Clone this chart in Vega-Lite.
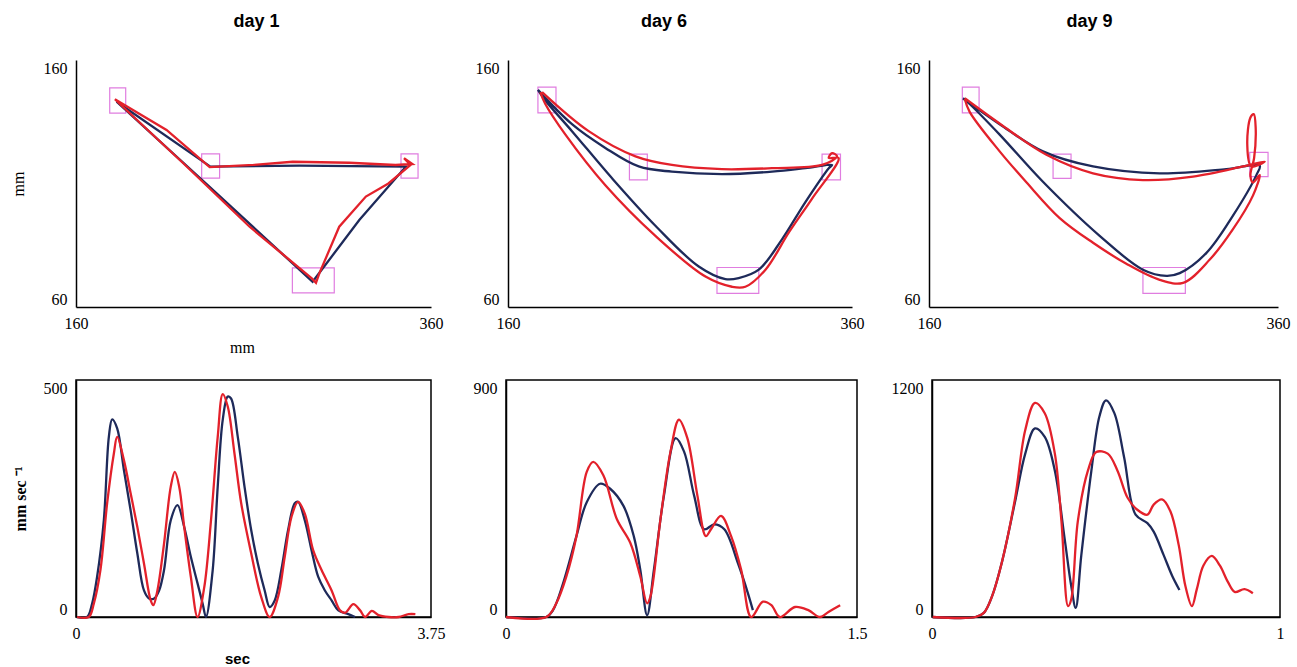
{
  "$schema": "https://vega.github.io/schema/vega-lite/v6.json",
  "padding": {"left": 10, "top": 13, "right": 5, "bottom": 2},
  "background": "white",
  "config": {
    "view": {"stroke": null},
    "axis": {"grid": false, "ticks": false, "domainColor": "black", "domainWidth": 1.5, "labelFont": "Liberation Serif", "labelFontSize": 16, "labelColor": "black", "titleFont": "Liberation Serif", "titleFontWeight": "normal", "titleColor": "black", "titleFontSize": 16},
    "axisX": {"labelFlush": false, "labelPadding": 8, "titlePadding": 8},
    "axisY": {"labelFlush": true, "labelPadding": 9, "titlePadding": 17},
    "title": {"font": "Liberation Sans", "fontSize": 18, "fontWeight": "bold", "offset": 29, "color": "black", "frame": "group"},
    "line": {"strokeWidth": 2.3, "interpolate": "catmull-rom"}
  },
  "datasets": {
    "targets": [
      {"day": 1, "x1": 179, "x2": 188, "y1": 138.5, "y2": 148.7},
      {"day": 1, "x1": 230.8, "x2": 240.9, "y1": 112.2, "y2": 122},
      {"day": 1, "x1": 343.1, "x2": 352.7, "y1": 112.2, "y2": 122},
      {"day": 1, "x1": 281.9, "x2": 305.5, "y1": 65.7, "y2": 75.8},
      {"day": 6, "x1": 177.4, "x2": 187.9, "y1": 138.6, "y2": 149},
      {"day": 6, "x1": 230.6, "x2": 241, "y1": 111.5, "y2": 121.9},
      {"day": 6, "x1": 342.6, "x2": 353.3, "y1": 111.5, "y2": 121.9},
      {"day": 6, "x1": 281.5, "x2": 305.8, "y1": 65.5, "y2": 76},
      {"day": 9, "x1": 179.1, "x2": 188.7, "y1": 138.6, "y2": 149},
      {"day": 9, "x1": 231.1, "x2": 241.4, "y1": 112.1, "y2": 121.9},
      {"day": 9, "x1": 343.8, "x2": 354.3, "y1": 112.8, "y2": 122.6},
      {"day": 9, "x1": 282.6, "x2": 306.9, "y1": 65.5, "y2": 76}
    ],
    "traj": [
      {"day": 1, "s": "b", "i": 0, "x": 182.9, "y": 143.1},
      {"day": 1, "s": "b", "i": 1, "x": 235.7, "y": 116.8},
      {"day": 1, "s": "b", "i": 2, "x": 285.8, "y": 117.2},
      {"day": 1, "s": "b", "i": 3, "x": 345.8, "y": 116.8},
      {"day": 1, "s": "b", "i": 4, "x": 319.6, "y": 95.2},
      {"day": 1, "s": "b", "i": 5, "x": 293.3, "y": 70.2},
      {"day": 1, "s": "b", "i": 6, "x": 237.1, "y": 107.4},
      {"day": 1, "s": "b", "i": 7, "x": 182.9, "y": 143.1},
      {"day": 1, "s": "r", "i": 0, "x": 181.9, "y": 144.1},
      {"day": 1, "s": "r", "i": 1, "x": 211, "y": 131.7},
      {"day": 1, "s": "r", "i": 2, "x": 235.3, "y": 116.6},
      {"day": 1, "s": "r", "i": 3, "x": 260, "y": 117.5},
      {"day": 1, "s": "r", "i": 4, "x": 282.1, "y": 118.8},
      {"day": 1, "s": "r", "i": 5, "x": 313.9, "y": 118.4},
      {"day": 1, "s": "r", "i": 6, "x": 340, "y": 117.5},
      {"day": 1, "s": "r", "i": 7, "x": 349.5, "y": 117.9},
      {"day": 1, "s": "r", "i": 8, "x": 344.8, "y": 120.2},
      {"day": 1, "s": "r", "i": 9, "x": 348.5, "y": 117.5},
      {"day": 1, "s": "r", "i": 10, "x": 336, "y": 110},
      {"day": 1, "s": "r", "i": 11, "x": 323.3, "y": 104.7},
      {"day": 1, "s": "r", "i": 12, "x": 308.3, "y": 92.5},
      {"day": 1, "s": "r", "i": 13, "x": 297.1, "y": 73.6},
      {"day": 1, "s": "r", "i": 14, "x": 295.2, "y": 69.8},
      {"day": 1, "s": "r", "i": 15, "x": 293, "y": 71.5},
      {"day": 1, "s": "r", "i": 16, "x": 257.8, "y": 92.5},
      {"day": 1, "s": "r", "i": 17, "x": 220, "y": 118.5},
      {"day": 1, "s": "r", "i": 18, "x": 181.9, "y": 144.1},
      {"day": 6, "s": "b", "i": 0, "x": 177.4, "y": 147.9},
      {"day": 6, "s": "b", "i": 1, "x": 197.2, "y": 134.0},
      {"day": 6, "s": "b", "i": 2, "x": 216.6, "y": 124.4},
      {"day": 6, "s": "b", "i": 3, "x": 236.0, "y": 116.9},
      {"day": 6, "s": "b", "i": 4, "x": 255.3, "y": 114.8},
      {"day": 6, "s": "b", "i": 5, "x": 284.4, "y": 113.8},
      {"day": 6, "s": "b", "i": 6, "x": 313.5, "y": 114.8},
      {"day": 6, "s": "b", "i": 7, "x": 332.9, "y": 116.2},
      {"day": 6, "s": "b", "i": 8, "x": 348.4, "y": 117.5},
      {"day": 6, "s": "b", "i": 9, "x": 346.5, "y": 116.2},
      {"day": 6, "s": "b", "i": 10, "x": 332.9, "y": 102.5},
      {"day": 6, "s": "b", "i": 11, "x": 319.3, "y": 87.4},
      {"day": 6, "s": "b", "i": 12, "x": 305.8, "y": 75.1},
      {"day": 6, "s": "b", "i": 13, "x": 294.1, "y": 71.7},
      {"day": 6, "s": "b", "i": 14, "x": 286.4, "y": 71.3},
      {"day": 6, "s": "b", "i": 15, "x": 270.9, "y": 76.4},
      {"day": 6, "s": "b", "i": 16, "x": 245.7, "y": 92.9},
      {"day": 6, "s": "b", "i": 17, "x": 220.5, "y": 112.1},
      {"day": 6, "s": "b", "i": 18, "x": 197.2, "y": 131.2},
      {"day": 6, "s": "b", "i": 19, "x": 181.7, "y": 143.6},
      {"day": 6, "s": "b", "i": 20, "x": 177.4, "y": 147.9},
      {"day": 6, "s": "r", "i": 0, "x": 179.8, "y": 147.0},
      {"day": 6, "s": "r", "i": 1, "x": 206.9, "y": 131.2},
      {"day": 6, "s": "r", "i": 2, "x": 234.1, "y": 121.0},
      {"day": 6, "s": "r", "i": 3, "x": 255.3, "y": 117.5},
      {"day": 6, "s": "r", "i": 4, "x": 284.4, "y": 115.8},
      {"day": 6, "s": "r", "i": 5, "x": 313.5, "y": 116.2},
      {"day": 6, "s": "r", "i": 6, "x": 342.6, "y": 117.5},
      {"day": 6, "s": "r", "i": 7, "x": 351.3, "y": 121.0},
      {"day": 6, "s": "r", "i": 8, "x": 348.4, "y": 122.3},
      {"day": 6, "s": "r", "i": 9, "x": 346.5, "y": 120.3},
      {"day": 6, "s": "r", "i": 10, "x": 352.2, "y": 120.3},
      {"day": 6, "s": "r", "i": 11, "x": 336.7, "y": 103.8},
      {"day": 6, "s": "r", "i": 12, "x": 323.3, "y": 90.2},
      {"day": 6, "s": "r", "i": 13, "x": 309.7, "y": 75.1},
      {"day": 6, "s": "r", "i": 14, "x": 298.0, "y": 68.2},
      {"day": 6, "s": "r", "i": 15, "x": 290.2, "y": 68.2},
      {"day": 6, "s": "r", "i": 16, "x": 274.8, "y": 72.3},
      {"day": 6, "s": "r", "i": 17, "x": 245.7, "y": 88.8},
      {"day": 6, "s": "r", "i": 18, "x": 216.6, "y": 109.3},
      {"day": 6, "s": "r", "i": 19, "x": 193.4, "y": 129.8},
      {"day": 6, "s": "r", "i": 20, "x": 181.7, "y": 142.2},
      {"day": 6, "s": "r", "i": 21, "x": 178.8, "y": 147.0},
      {"day": 9, "s": "b", "i": 0, "x": 179.5, "y": 144.5},
      {"day": 9, "s": "b", "i": 1, "x": 200.5, "y": 134.0},
      {"day": 9, "s": "b", "i": 2, "x": 225.3, "y": 123.0},
      {"day": 9, "s": "b", "i": 3, "x": 254.0, "y": 116.9},
      {"day": 9, "s": "b", "i": 4, "x": 292.2, "y": 114.1},
      {"day": 9, "s": "b", "i": 5, "x": 330.4, "y": 115.8},
      {"day": 9, "s": "b", "i": 6, "x": 349.5, "y": 117.3},
      {"day": 9, "s": "b", "i": 7, "x": 347.6, "y": 113.4},
      {"day": 9, "s": "b", "i": 8, "x": 334.2, "y": 97.0},
      {"day": 9, "s": "b", "i": 9, "x": 319.0, "y": 81.9},
      {"day": 9, "s": "b", "i": 10, "x": 303.7, "y": 73.7},
      {"day": 9, "s": "b", "i": 11, "x": 296.1, "y": 72.6},
      {"day": 9, "s": "b", "i": 12, "x": 282.6, "y": 75.1},
      {"day": 9, "s": "b", "i": 13, "x": 257.8, "y": 88.8},
      {"day": 9, "s": "b", "i": 14, "x": 225.3, "y": 110.7},
      {"day": 9, "s": "b", "i": 15, "x": 200.5, "y": 129.8},
      {"day": 9, "s": "b", "i": 16, "x": 183.3, "y": 142.2},
      {"day": 9, "s": "b", "i": 17, "x": 179.5, "y": 144.5},
      {"day": 9, "s": "r", "i": 0, "x": 180.5, "y": 144.5},
      {"day": 9, "s": "r", "i": 1, "x": 202.4, "y": 133.3},
      {"day": 9, "s": "r", "i": 2, "x": 227.3, "y": 121.6},
      {"day": 9, "s": "r", "i": 3, "x": 254.0, "y": 114.1},
      {"day": 9, "s": "r", "i": 4, "x": 282.6, "y": 111.4},
      {"day": 9, "s": "r", "i": 5, "x": 311.3, "y": 112.8},
      {"day": 9, "s": "r", "i": 6, "x": 339.9, "y": 116.9},
      {"day": 9, "s": "r", "i": 7, "x": 352.4, "y": 118.9},
      {"day": 9, "s": "r", "i": 8, "x": 344.7, "y": 116.9},
      {"day": 9, "s": "r", "i": 9, "x": 342.4, "y": 125.7},
      {"day": 9, "s": "r", "i": 10, "x": 344.2, "y": 136.7},
      {"day": 9, "s": "r", "i": 11, "x": 346.1, "y": 138.1},
      {"day": 9, "s": "r", "i": 12, "x": 347.2, "y": 132.6},
      {"day": 9, "s": "r", "i": 13, "x": 346.3, "y": 120.3},
      {"day": 9, "s": "r", "i": 14, "x": 344.2, "y": 113.4},
      {"day": 9, "s": "r", "i": 15, "x": 345.7, "y": 110.4},
      {"day": 9, "s": "r", "i": 16, "x": 349.5, "y": 113.4},
      {"day": 9, "s": "r", "i": 17, "x": 345.7, "y": 105.2},
      {"day": 9, "s": "r", "i": 18, "x": 334.2, "y": 91.5},
      {"day": 9, "s": "r", "i": 19, "x": 320.9, "y": 79.2},
      {"day": 9, "s": "r", "i": 20, "x": 305.6, "y": 69.8},
      {"day": 9, "s": "r", "i": 21, "x": 292.2, "y": 71.0},
      {"day": 9, "s": "r", "i": 22, "x": 273.1, "y": 77.5},
      {"day": 9, "s": "r", "i": 23, "x": 254.0, "y": 86.0},
      {"day": 9, "s": "r", "i": 24, "x": 234.9, "y": 96.0},
      {"day": 9, "s": "r", "i": 25, "x": 215.8, "y": 110.5},
      {"day": 9, "s": "r", "i": 26, "x": 200.5, "y": 123.0},
      {"day": 9, "s": "r", "i": 27, "x": 183.3, "y": 139.0},
      {"day": 9, "s": "r", "i": 28, "x": 180.5, "y": 144.2}
    ],
    "vel": [
      {"day": 1, "s": "b", "t": 0.011, "v": 0},
      {"day": 1, "s": "b", "t": 0.117, "v": 0},
      {"day": 1, "s": "b", "t": 0.170, "v": 28},
      {"day": 1, "s": "b", "t": 0.223, "v": 85},
      {"day": 1, "s": "b", "t": 0.294, "v": 204},
      {"day": 1, "s": "b", "t": 0.347, "v": 380},
      {"day": 1, "s": "b", "t": 0.382, "v": 417},
      {"day": 1, "s": "b", "t": 0.435, "v": 398},
      {"day": 1, "s": "b", "t": 0.506, "v": 310},
      {"day": 1, "s": "b", "t": 0.577, "v": 225},
      {"day": 1, "s": "b", "t": 0.648, "v": 134},
      {"day": 1, "s": "b", "t": 0.718, "v": 56},
      {"day": 1, "s": "b", "t": 0.772, "v": 39},
      {"day": 1, "s": "b", "t": 0.825, "v": 39},
      {"day": 1, "s": "b", "t": 0.878, "v": 56},
      {"day": 1, "s": "b", "t": 0.930, "v": 99},
      {"day": 1, "s": "b", "t": 1.001, "v": 204},
      {"day": 1, "s": "b", "t": 1.072, "v": 236},
      {"day": 1, "s": "b", "t": 1.143, "v": 190},
      {"day": 1, "s": "b", "t": 1.213, "v": 127},
      {"day": 1, "s": "b", "t": 1.284, "v": 71},
      {"day": 1, "s": "b", "t": 1.338, "v": 28},
      {"day": 1, "s": "b", "t": 1.373, "v": 0},
      {"day": 1, "s": "b", "t": 1.444, "v": 99},
      {"day": 1, "s": "b", "t": 1.497, "v": 275},
      {"day": 1, "s": "b", "t": 1.550, "v": 416},
      {"day": 1, "s": "b", "t": 1.603, "v": 465},
      {"day": 1, "s": "b", "t": 1.638, "v": 461},
      {"day": 1, "s": "b", "t": 1.709, "v": 380},
      {"day": 1, "s": "b", "t": 1.780, "v": 275},
      {"day": 1, "s": "b", "t": 1.851, "v": 183},
      {"day": 1, "s": "b", "t": 1.921, "v": 113},
      {"day": 1, "s": "b", "t": 1.993, "v": 56},
      {"day": 1, "s": "b", "t": 2.046, "v": 21},
      {"day": 1, "s": "b", "t": 2.099, "v": 35},
      {"day": 1, "s": "b", "t": 2.169, "v": 99},
      {"day": 1, "s": "b", "t": 2.240, "v": 183},
      {"day": 1, "s": "b", "t": 2.311, "v": 240},
      {"day": 1, "s": "b", "t": 2.346, "v": 243},
      {"day": 1, "s": "b", "t": 2.417, "v": 204},
      {"day": 1, "s": "b", "t": 2.488, "v": 141},
      {"day": 1, "s": "b", "t": 2.558, "v": 85},
      {"day": 1, "s": "b", "t": 2.629, "v": 56},
      {"day": 1, "s": "b", "t": 2.700, "v": 35},
      {"day": 1, "s": "b", "t": 2.771, "v": 14},
      {"day": 1, "s": "b", "t": 2.877, "v": 6},
      {"day": 1, "s": "b", "t": 2.948, "v": 0},
      {"day": 1, "s": "r", "t": 0.011, "v": 0},
      {"day": 1, "s": "r", "t": 0.135, "v": 0},
      {"day": 1, "s": "r", "t": 0.188, "v": 28},
      {"day": 1, "s": "r", "t": 0.258, "v": 99},
      {"day": 1, "s": "r", "t": 0.329, "v": 240},
      {"day": 1, "s": "r", "t": 0.400, "v": 345},
      {"day": 1, "s": "r", "t": 0.435, "v": 380},
      {"day": 1, "s": "r", "t": 0.506, "v": 331},
      {"day": 1, "s": "r", "t": 0.577, "v": 261},
      {"day": 1, "s": "r", "t": 0.648, "v": 190},
      {"day": 1, "s": "r", "t": 0.718, "v": 113},
      {"day": 1, "s": "r", "t": 0.789, "v": 35},
      {"day": 1, "s": "r", "t": 0.817, "v": 25},
      {"day": 1, "s": "r", "t": 0.860, "v": 56},
      {"day": 1, "s": "r", "t": 0.930, "v": 155},
      {"day": 1, "s": "r", "t": 1.001, "v": 275},
      {"day": 1, "s": "r", "t": 1.044, "v": 306},
      {"day": 1, "s": "r", "t": 1.090, "v": 275},
      {"day": 1, "s": "r", "t": 1.143, "v": 190},
      {"day": 1, "s": "r", "t": 1.213, "v": 85},
      {"day": 1, "s": "r", "t": 1.284, "v": 0},
      {"day": 1, "s": "r", "t": 1.355, "v": 63},
      {"day": 1, "s": "r", "t": 1.426, "v": 204},
      {"day": 1, "s": "r", "t": 1.497, "v": 380},
      {"day": 1, "s": "r", "t": 1.550, "v": 470},
      {"day": 1, "s": "r", "t": 1.603, "v": 444},
      {"day": 1, "s": "r", "t": 1.674, "v": 345},
      {"day": 1, "s": "r", "t": 1.745, "v": 240},
      {"day": 1, "s": "r", "t": 1.851, "v": 134},
      {"day": 1, "s": "r", "t": 1.957, "v": 42},
      {"day": 1, "s": "r", "t": 2.046, "v": 0},
      {"day": 1, "s": "r", "t": 2.134, "v": 42},
      {"day": 1, "s": "r", "t": 2.205, "v": 127},
      {"day": 1, "s": "r", "t": 2.276, "v": 211},
      {"day": 1, "s": "r", "t": 2.346, "v": 243},
      {"day": 1, "s": "r", "t": 2.417, "v": 218},
      {"day": 1, "s": "r", "t": 2.505, "v": 141},
      {"day": 1, "s": "r", "t": 2.594, "v": 99},
      {"day": 1, "s": "r", "t": 2.700, "v": 56},
      {"day": 1, "s": "r", "t": 2.789, "v": 14},
      {"day": 1, "s": "r", "t": 2.842, "v": 9},
      {"day": 1, "s": "r", "t": 2.930, "v": 27},
      {"day": 1, "s": "r", "t": 3.001, "v": 14},
      {"day": 1, "s": "r", "t": 3.054, "v": 0},
      {"day": 1, "s": "r", "t": 3.125, "v": 13},
      {"day": 1, "s": "r", "t": 3.195, "v": 4},
      {"day": 1, "s": "r", "t": 3.301, "v": 0},
      {"day": 1, "s": "r", "t": 3.408, "v": 0},
      {"day": 1, "s": "r", "t": 3.514, "v": 6},
      {"day": 1, "s": "r", "t": 3.585, "v": 6},
      {"day": 6, "s": "b", "t": 0, "v": 0},
      {"day": 6, "s": "b", "t": 0.172, "v": 0},
      {"day": 6, "s": "b", "t": 0.201, "v": 26},
      {"day": 6, "s": "b", "t": 0.244, "v": 128},
      {"day": 6, "s": "b", "t": 0.301, "v": 307},
      {"day": 6, "s": "b", "t": 0.345, "v": 436},
      {"day": 6, "s": "b", "t": 0.402, "v": 506},
      {"day": 6, "s": "b", "t": 0.445, "v": 487},
      {"day": 6, "s": "b", "t": 0.502, "v": 422},
      {"day": 6, "s": "b", "t": 0.546, "v": 307},
      {"day": 6, "s": "b", "t": 0.574, "v": 179},
      {"day": 6, "s": "b", "t": 0.603, "v": 7},
      {"day": 6, "s": "b", "t": 0.632, "v": 179},
      {"day": 6, "s": "b", "t": 0.675, "v": 461},
      {"day": 6, "s": "b", "t": 0.725, "v": 679},
      {"day": 6, "s": "b", "t": 0.761, "v": 628},
      {"day": 6, "s": "b", "t": 0.804, "v": 461},
      {"day": 6, "s": "b", "t": 0.847, "v": 333},
      {"day": 6, "s": "b", "t": 0.890, "v": 352},
      {"day": 6, "s": "b", "t": 0.933, "v": 333},
      {"day": 6, "s": "b", "t": 0.991, "v": 205},
      {"day": 6, "s": "b", "t": 1.034, "v": 90},
      {"day": 6, "s": "b", "t": 1.055, "v": 26},
      {"day": 6, "s": "r", "t": 0, "v": 0},
      {"day": 6, "s": "r", "t": 0.172, "v": 0},
      {"day": 6, "s": "r", "t": 0.215, "v": 52},
      {"day": 6, "s": "r", "t": 0.258, "v": 154},
      {"day": 6, "s": "r", "t": 0.301, "v": 307},
      {"day": 6, "s": "r", "t": 0.345, "v": 551},
      {"day": 6, "s": "r", "t": 0.373, "v": 589},
      {"day": 6, "s": "r", "t": 0.416, "v": 538},
      {"day": 6, "s": "r", "t": 0.474, "v": 371},
      {"day": 6, "s": "r", "t": 0.531, "v": 282},
      {"day": 6, "s": "r", "t": 0.574, "v": 154},
      {"day": 6, "s": "r", "t": 0.603, "v": 52},
      {"day": 6, "s": "r", "t": 0.617, "v": 77},
      {"day": 6, "s": "r", "t": 0.660, "v": 371},
      {"day": 6, "s": "r", "t": 0.703, "v": 628},
      {"day": 6, "s": "r", "t": 0.739, "v": 749},
      {"day": 6, "s": "r", "t": 0.775, "v": 679},
      {"day": 6, "s": "r", "t": 0.818, "v": 461},
      {"day": 6, "s": "r", "t": 0.854, "v": 307},
      {"day": 6, "s": "r", "t": 0.876, "v": 333},
      {"day": 6, "s": "r", "t": 0.919, "v": 384},
      {"day": 6, "s": "r", "t": 0.962, "v": 307},
      {"day": 6, "s": "r", "t": 1.005, "v": 179},
      {"day": 6, "s": "r", "t": 1.048, "v": 0},
      {"day": 6, "s": "r", "t": 1.098, "v": 58},
      {"day": 6, "s": "r", "t": 1.134, "v": 45},
      {"day": 6, "s": "r", "t": 1.170, "v": 0},
      {"day": 6, "s": "r", "t": 1.235, "v": 38},
      {"day": 6, "s": "r", "t": 1.292, "v": 26},
      {"day": 6, "s": "r", "t": 1.342, "v": 0},
      {"day": 6, "s": "r", "t": 1.378, "v": 19},
      {"day": 6, "s": "r", "t": 1.428, "v": 45},
      {"day": 9, "s": "b", "t": 0.002, "v": 0},
      {"day": 9, "s": "b", "t": 0.125, "v": 0},
      {"day": 9, "s": "b", "t": 0.149, "v": 21},
      {"day": 9, "s": "b", "t": 0.173, "v": 107},
      {"day": 9, "s": "b", "t": 0.201, "v": 278},
      {"day": 9, "s": "b", "t": 0.239, "v": 586},
      {"day": 9, "s": "b", "t": 0.268, "v": 827},
      {"day": 9, "s": "b", "t": 0.296, "v": 955},
      {"day": 9, "s": "b", "t": 0.324, "v": 912},
      {"day": 9, "s": "b", "t": 0.353, "v": 741},
      {"day": 9, "s": "b", "t": 0.381, "v": 398},
      {"day": 9, "s": "b", "t": 0.400, "v": 158},
      {"day": 9, "s": "b", "t": 0.413, "v": 46},
      {"day": 9, "s": "b", "t": 0.429, "v": 312},
      {"day": 9, "s": "b", "t": 0.458, "v": 741},
      {"day": 9, "s": "b", "t": 0.481, "v": 1015},
      {"day": 9, "s": "b", "t": 0.500, "v": 1097},
      {"day": 9, "s": "b", "t": 0.524, "v": 1032},
      {"day": 9, "s": "b", "t": 0.552, "v": 809},
      {"day": 9, "s": "b", "t": 0.585, "v": 518},
      {"day": 9, "s": "b", "t": 0.619, "v": 475},
      {"day": 9, "s": "b", "t": 0.637, "v": 432},
      {"day": 9, "s": "b", "t": 0.666, "v": 312},
      {"day": 9, "s": "b", "t": 0.690, "v": 209},
      {"day": 9, "s": "b", "t": 0.711, "v": 137},
      {"day": 9, "s": "r", "t": 0.002, "v": 0},
      {"day": 9, "s": "r", "t": 0.125, "v": 0},
      {"day": 9, "s": "r", "t": 0.149, "v": 21},
      {"day": 9, "s": "r", "t": 0.173, "v": 107},
      {"day": 9, "s": "r", "t": 0.201, "v": 278},
      {"day": 9, "s": "r", "t": 0.239, "v": 604},
      {"day": 9, "s": "r", "t": 0.268, "v": 947},
      {"day": 9, "s": "r", "t": 0.296, "v": 1084},
      {"day": 9, "s": "r", "t": 0.324, "v": 1032},
      {"day": 9, "s": "r", "t": 0.353, "v": 827},
      {"day": 9, "s": "r", "t": 0.372, "v": 484},
      {"day": 9, "s": "r", "t": 0.391, "v": 55},
      {"day": 9, "s": "r", "t": 0.400, "v": 89},
      {"day": 9, "s": "r", "t": 0.419, "v": 484},
      {"day": 9, "s": "r", "t": 0.448, "v": 741},
      {"day": 9, "s": "r", "t": 0.472, "v": 835},
      {"day": 9, "s": "r", "t": 0.505, "v": 827},
      {"day": 9, "s": "r", "t": 0.533, "v": 741},
      {"day": 9, "s": "r", "t": 0.562, "v": 604},
      {"day": 9, "s": "r", "t": 0.590, "v": 543},
      {"day": 9, "s": "r", "t": 0.619, "v": 518},
      {"day": 9, "s": "r", "t": 0.637, "v": 569},
      {"day": 9, "s": "r", "t": 0.661, "v": 595},
      {"day": 9, "s": "r", "t": 0.685, "v": 535},
      {"day": 9, "s": "r", "t": 0.709, "v": 364},
      {"day": 9, "s": "r", "t": 0.728, "v": 158},
      {"day": 9, "s": "r", "t": 0.747, "v": 55},
      {"day": 9, "s": "r", "t": 0.761, "v": 141},
      {"day": 9, "s": "r", "t": 0.780, "v": 261},
      {"day": 9, "s": "r", "t": 0.804, "v": 309},
      {"day": 9, "s": "r", "t": 0.827, "v": 261},
      {"day": 9, "s": "r", "t": 0.851, "v": 175},
      {"day": 9, "s": "r", "t": 0.870, "v": 127},
      {"day": 9, "s": "r", "t": 0.898, "v": 141},
      {"day": 9, "s": "r", "t": 0.922, "v": 120}
    ]
  },
  "bounds": "flush",
  "spacing": 320,
  "vconcat": [
    {
      "bounds": "flush",
      "spacing": 77,
      "hconcat": [
        {
          "width": 355, "height": 247,
          "title": {"text": "day 1", "dx": 3},
          "layer": [
            {"data": {"name": "targets"}, "transform": [{"filter": "datum.day == 1"}],
             "mark": {"type": "rect", "fill": null, "stroke": "#e07de0", "strokeWidth": 1.2},
             "encoding": {
               "x": {"field": "x1", "type": "quantitative", "scale": {"domain": [160, 360], "nice": false, "zero": false}, "axis": {"values": [160, 360], "format": "d", "titleX": 166}, "title": "mm"},
               "x2": {"field": "x2"},
               "y": {"field": "y1", "type": "quantitative", "scale": {"domain": [60, 160], "nice": false, "zero": false}, "axis": {"values": [60, 160], "format": "d"}, "title": "mm"},
               "y2": {"field": "y2"}}},
            {"data": {"name": "traj"}, "transform": [{"filter": "datum.day == 1"}],
             "mark": {"type": "line", "interpolate": "linear"},
             "encoding": {
               "x": {"field": "x", "type": "quantitative", "title": "mm"},
               "y": {"field": "y", "type": "quantitative", "title": "mm"},
               "color": {"field": "s", "type": "nominal", "scale": {"domain": ["b", "r"], "range": ["#1e2a5a", "#e3212b"]}, "legend": null},
               "order": {"field": "i", "type": "quantitative"}}}
          ]
        },
        {
          "width": 344, "height": 247,
          "title": {"text": "day 6", "dx": -16},
          "layer": [
            {"data": {"name": "targets"}, "transform": [{"filter": "datum.day == 6"}],
             "mark": {"type": "rect", "fill": null, "stroke": "#e07de0", "strokeWidth": 1.2},
             "encoding": {
               "x": {"field": "x1", "type": "quantitative", "scale": {"domain": [160, 360], "nice": false, "zero": false}, "axis": {"values": [160, 360], "format": "d"}, "title": null},
               "x2": {"field": "x2"},
               "y": {"field": "y1", "type": "quantitative", "scale": {"domain": [60, 160], "nice": false, "zero": false}, "axis": {"values": [60, 160], "format": "d"}, "title": null},
               "y2": {"field": "y2"}}},
            {"data": {"name": "traj"}, "transform": [{"filter": "datum.day == 6"}],
             "mark": {"type": "line"},
             "encoding": {
               "x": {"field": "x", "type": "quantitative", "title": null},
               "y": {"field": "y", "type": "quantitative", "title": null},
               "color": {"field": "s", "type": "nominal", "scale": {"domain": ["b", "r"], "range": ["#1e2a5a", "#e3212b"]}, "legend": null},
               "order": {"field": "i", "type": "quantitative"}}}
          ]
        },
        {
          "width": 349, "height": 247,
          "title": {"text": "day 9", "dx": -14},
          "layer": [
            {"data": {"name": "targets"}, "transform": [{"filter": "datum.day == 9"}],
             "mark": {"type": "rect", "fill": null, "stroke": "#e07de0", "strokeWidth": 1.2},
             "encoding": {
               "x": {"field": "x1", "type": "quantitative", "scale": {"domain": [160, 360], "nice": false, "zero": false}, "axis": {"values": [160, 360], "format": "d"}, "title": null},
               "x2": {"field": "x2"},
               "y": {"field": "y1", "type": "quantitative", "scale": {"domain": [60, 160], "nice": false, "zero": false}, "axis": {"values": [60, 160], "format": "d"}, "title": null},
               "y2": {"field": "y2"}}},
            {"data": {"name": "traj"}, "transform": [{"filter": "datum.day == 9"}],
             "mark": {"type": "line"},
             "encoding": {
               "x": {"field": "x", "type": "quantitative", "title": null},
               "y": {"field": "y", "type": "quantitative", "title": null},
               "color": {"field": "s", "type": "nominal", "scale": {"domain": ["b", "r"], "range": ["#1e2a5a", "#e3212b"]}, "legend": null},
               "order": {"field": "i", "type": "quantitative"}}}
          ]
        }
      ]
    },
    {
      "bounds": "flush",
      "spacing": 75,
      "hconcat": [
        {
          "width": 355, "height": 237,
          "view": {"stroke": "black", "strokeWidth": 1.5},
          "data": {"name": "vel"},
          "transform": [{"filter": "datum.day == 1"}],
          "mark": {"type": "line"},
          "encoding": {
            "x": {"field": "t", "type": "quantitative", "scale": {"domain": [0, 3.75], "nice": false, "zero": false}, "axis": {"values": [0, 3.75], "format": ".3~g", "titleFont": "Liberation Sans", "titleFontWeight": "bold", "titleFontSize": 15, "titlePadding": 10, "titleX": 161}, "title": "sec"},
            "y": {"field": "v", "type": "quantitative", "scale": {"domain": [0, 500], "nice": false}, "axis": {"values": [0, 500], "format": "d", "titleFontSize": 16, "titleFontWeight": "bold", "titlePadding": 15}, "title": "mm sec ⁻¹"},
            "color": {"field": "s", "type": "nominal", "scale": {"domain": ["b", "r"], "range": ["#1e2a5a", "#e3212b"]}, "legend": null}
          }
        },
        {
          "width": 351, "height": 237,
          "view": {"stroke": "black", "strokeWidth": 1.5},
          "data": {"name": "vel"},
          "transform": [{"filter": "datum.day == 6"}],
          "mark": {"type": "line"},
          "encoding": {
            "x": {"field": "t", "type": "quantitative", "scale": {"domain": [0, 1.5], "nice": false, "zero": false}, "axis": {"values": [0, 1.5], "format": ".3~g"}, "title": null},
            "y": {"field": "v", "type": "quantitative", "scale": {"domain": [0, 900], "nice": false}, "axis": {"values": [0, 900], "format": "d"}, "title": null},
            "color": {"field": "s", "type": "nominal", "scale": {"domain": ["b", "r"], "range": ["#1e2a5a", "#e3212b"]}, "legend": null}
          }
        },
        {
          "width": 348, "height": 237,
          "view": {"stroke": "black", "strokeWidth": 1.5},
          "data": {"name": "vel"},
          "transform": [{"filter": "datum.day == 9"}],
          "mark": {"type": "line"},
          "encoding": {
            "x": {"field": "t", "type": "quantitative", "scale": {"domain": [0, 1], "nice": false, "zero": false}, "axis": {"values": [0, 1], "format": ".3~g"}, "title": null},
            "y": {"field": "v", "type": "quantitative", "scale": {"domain": [0, 1200], "nice": false}, "axis": {"values": [0, 1200], "format": "d"}, "title": null},
            "color": {"field": "s", "type": "nominal", "scale": {"domain": ["b", "r"], "range": ["#1e2a5a", "#e3212b"]}, "legend": null}
          }
        }
      ]
    }
  ]
}
